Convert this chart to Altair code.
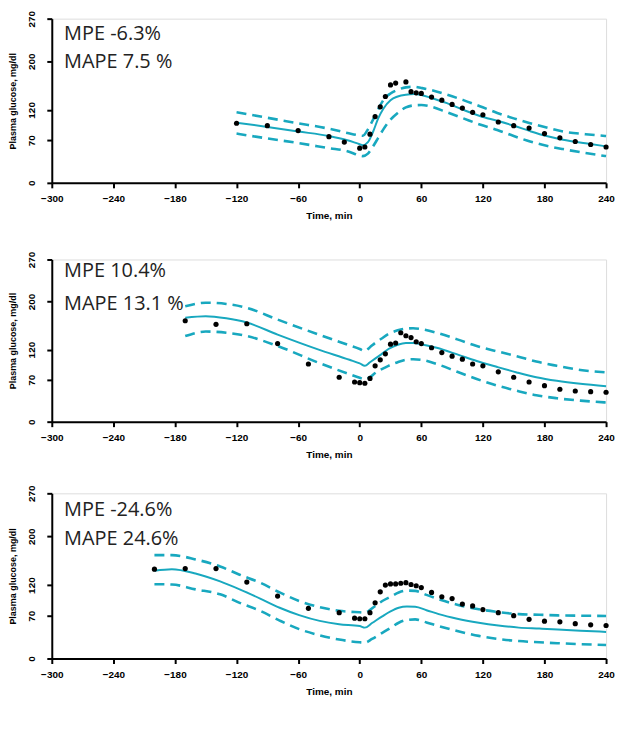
import altair as alt
import pandas as pd

TEAL = "#18a8bf"

# ---------------- Panel 1 ----------------
p1_line_x = [-120, -90, -60, -30, -12, 0, 3, 8, 13, 18, 23, 30, 37, 45, 53, 60, 69, 85, 101, 117, 134, 150, 166, 182, 198, 220, 240]
p1_median = [99, 92, 84.5, 77, 70, 63.5, 62, 67, 84, 106, 122, 136, 142, 145, 146, 144.5, 140, 131, 120, 110, 102, 94, 85, 77, 71, 65, 60]
p1_upper = [116, 107, 98, 89, 82, 78, 77.5, 88, 104, 121, 136, 147, 153, 157, 158, 156, 153, 145, 136, 126, 115, 106, 98, 91, 84.5, 80, 77]
p1_lower = [81, 73, 65.5, 57, 52, 45, 44, 48, 60, 74, 88, 104, 115, 124, 127.5, 128, 125.5, 116, 106, 96, 87, 77, 68, 61, 55.5, 49, 44]
p1_obs_x = [-120, -90, -60, -30, -15, 0, 5, 10, 15, 20, 25, 30, 35, 45, 50, 55, 60, 70, 80, 90, 100, 110, 120, 135, 150, 165, 180, 195, 210, 225, 240]
p1_obs_y = [98, 94, 86, 76, 67, 57, 59, 80, 109, 125, 142, 161, 164, 166, 150, 148, 147, 141, 136, 129, 123, 116, 112, 100, 94, 90, 81, 74, 68, 63, 59]
p1_text = ["MPE -6.3%", "MAPE 7.5 %"]
p1_text_y = [244, 198]

# ---------------- Panel 2 ----------------
p2_line_x = [-170, -150, -130, -110, -80, -40, -10, 0, 5, 10, 15, 21, 28, 37, 45, 52, 60, 75, 95, 114, 134, 153, 172, 192, 215, 240]
p2_median = [173, 175.5, 172, 165, 145, 120, 103, 97, 93, 99, 105, 112, 121, 128, 131, 131, 129, 123, 112, 101, 91, 82, 74, 68, 63, 59]
p2_upper = [192, 198, 196, 189.5, 170, 145, 127, 121, 117.5, 124, 131, 138, 146, 152, 155, 155.5, 154, 148, 137, 126, 117, 109, 100, 93, 86, 82]
p2_lower = [142.5, 150, 148, 142.5, 126, 98, 79, 73, 70.5, 74, 81, 87, 93, 99, 103, 104, 103, 96, 83, 71, 60, 51.5, 44, 39, 35, 32]
p2_obs_x = [-170, -140, -110, -80, -50, -20, -5, 0, 5, 10, 15, 20, 25, 30, 35, 40, 45, 50, 55, 60, 70, 80, 90, 100, 110, 120, 135, 150, 165, 180, 195, 210, 225, 240]
p2_obs_y = [168, 162, 163, 130, 96, 74, 66, 65, 64, 72, 93, 103, 113, 129, 131, 148, 143, 140, 133, 130, 123, 115, 109, 104, 96, 93, 83, 74, 66, 60, 54, 51, 50, 49]
p2_text = ["MPE 10.4%", "MAPE 13.1 %"]
p2_text_y = [250, 196]

# ---------------- Panel 3 ----------------
p3_line_x = [-200, -183, -160, -136, -117, -97, -78, -59, -39, -20, 0, 5, 12, 22, 30, 38, 46, 54, 65, 77, 95, 116, 135, 155, 175, 193, 215, 240]
p3_median = [143.5, 146, 139, 126, 113, 98, 83, 71, 61.5, 56, 53, 50.5, 58, 69, 77, 83, 85, 84.5, 79, 72.5, 65, 58.5, 54, 50.5, 49, 47.5, 45.5, 43.5]
p3_upper = [169, 169, 162, 150.5, 137, 124, 108, 94, 84, 78, 75.5, 75, 82, 94, 101, 108, 111, 110.5, 104, 97, 88, 80.5, 76, 72.5, 71.5, 70.5, 70, 69.5]
p3_lower = [121.5, 121, 113, 105, 91, 78, 62, 48, 38, 31, 26.5, 26, 32, 42, 50, 58.5, 63, 64, 59, 53, 45, 37, 32, 28.5, 26.5, 25, 23.5, 22]
p3_obs_x = [-200, -170, -140, -110, -80, -50, -20, -5, 0, 5, 10, 15, 20, 25, 30, 35, 40, 45, 50, 55, 60, 70, 80, 90, 100, 110, 120, 135, 150, 165, 180, 195, 210, 225, 240]
p3_obs_y = [146, 147, 147, 125, 102, 82, 75, 66, 65, 65, 75, 91, 109, 120, 122, 122, 123, 124, 121, 119, 116, 108, 101, 98, 89, 86, 80, 75, 70, 64, 61, 60, 57, 55, 54]
p3_text = ["MPE -24.6%", "MAPE 24.6%"]
p3_text_y = [242, 195]

x_ticks = [-300, -240, -180, -120, -60, 0, 60, 120, 180, 240]
y_ticks = [0, 70, 120, 200, 270]
TEXT_X = -288

AX_FONT = "Liberation Sans"


def make_panel(lx, med, up, lo, ox, oy, texts, ty, height):
    xs = alt.Scale(domain=[-300, 240], nice=False, zero=False)
    ys = alt.Scale(domain=[0, 270], nice=False)
    xax = alt.Axis(values=x_ticks, title="Time, min", grid=False,
                   domainColor="black", domainWidth=2, tickColor="black", tickWidth=2, tickSize=5,
                   labelFont=AX_FONT, labelFontSize=10, labelFontWeight="bold", labelColor="black",
                   labelPadding=6, titleFont=AX_FONT, titleFontSize=10, titleFontWeight="bold",
                   titleColor="black", titlePadding=7, labelFlush=False)
    yax = alt.Axis(values=y_ticks, title="Plasma glucose, mg/dl", grid=False,
                   domainColor="black", domainWidth=2, tickColor="black", tickWidth=2, tickSize=5,
                   labelFont=AX_FONT, labelFontSize=10, labelFontWeight="bold", labelColor="black",
                   labelAngle=270, labelAlign="center", labelBaseline="bottom", labelPadding=10,
                   titleFont=AX_FONT, titleFontSize=9, titleFontWeight="bold", titleColor="black",
                   titlePadding=9, labelFlush=False)

    ldf = pd.DataFrame({"t": lx, "median": med, "upper": up, "lower": lo})
    odf = pd.DataFrame({"t": ox, "g": oy})
    tdf = pd.DataFrame({"t": [TEXT_X] * len(texts), "g": ty, "label": texts})

    x_enc = alt.X("t:Q", scale=xs, axis=xax)
    solid = alt.Chart(ldf).mark_line(color=TEAL, strokeWidth=2, interpolate="monotone").encode(
        x=x_enc, y=alt.Y("median:Q", scale=ys, axis=yax))
    upper = alt.Chart(ldf).mark_line(color=TEAL, strokeWidth=2.6, strokeDash=[10, 6], interpolate="monotone").encode(
        x=alt.X("t:Q", scale=xs), y=alt.Y("upper:Q", scale=ys))
    lower = alt.Chart(ldf).mark_line(color=TEAL, strokeWidth=2.6, strokeDash=[10, 6], interpolate="monotone").encode(
        x=alt.X("t:Q", scale=xs), y=alt.Y("lower:Q", scale=ys))
    pts = alt.Chart(odf).mark_circle(color="black", size=27, opacity=1).encode(
        x=alt.X("t:Q", scale=xs), y=alt.Y("g:Q", scale=ys))
    txt = alt.Chart(tdf).mark_text(align="left", baseline="middle", font="Open Sans", fontSize=20,
                                   color="#222222").encode(
        x=alt.X("t:Q", scale=xs), y=alt.Y("g:Q", scale=ys), text="label:N")
    return alt.layer(solid, upper, lower, pts, txt).properties(width=557, height=height)


p1 = make_panel(p1_line_x, p1_median, p1_upper, p1_lower, p1_obs_x, p1_obs_y, p1_text, p1_text_y, 165)
p2 = make_panel(p2_line_x, p2_median, p2_upper, p2_lower, p2_obs_x, p2_obs_y, p2_text, p2_text_y, 163)
p3 = make_panel(p3_line_x, p3_median, p3_upper, p3_lower, p3_obs_x, p3_obs_y, p3_text, p3_text_y, 166)

chart = alt.vconcat(alt.vconcat(p1, p2, spacing=29), p3, spacing=24).properties(
    padding={"left": 0, "top": 0, "right": 5, "bottom": 5}
).configure_view(stroke=None).configure(background="white")

chart.save("out.html", embed_options={"renderer": "svg", "actions": False})
